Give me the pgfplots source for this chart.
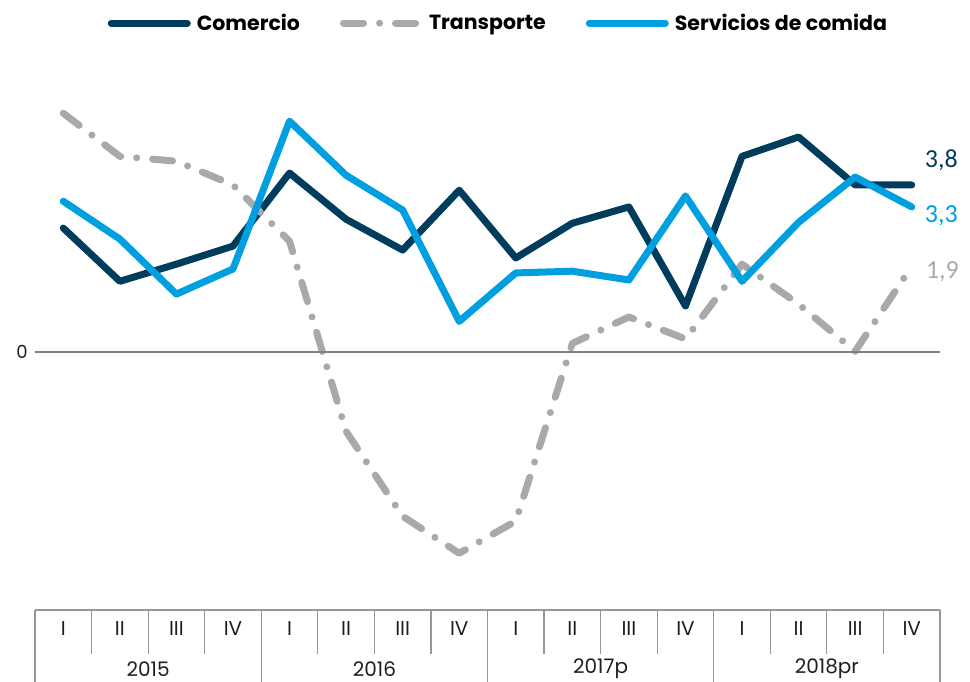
\documentclass[border=0pt]{standalone}
\usepackage{pgfplots}
\pgfplotsset{compat=1.18}
\usepackage{fontspec}
\setmainfont{Poppins}
\newfontfamily\carlito{Carlito}
\definecolor{cnavy}{RGB}{0,61,92}
\definecolor{cblue}{RGB}{0,160,224}
\definecolor{cgray}{RGB}{168,169,173}
\definecolor{tline}{RGB}{150,150,150}
\definecolor{ttext}{RGB}{30,30,30}
\begin{document}
\begin{tikzpicture}
\path[use as bounding box] (-35pt,-72pt) rectangle (935pt,610pt);
\begin{axis}[
  scale only axis, width=905pt, height=550pt,
  at={(0pt,0pt)}, anchor=south west,
  xmin=-0.5, xmax=15.5, ymin=-5.86, ymax=6.64,
  axis line style={draw=none}, xtick=\empty, ytick=\empty,
  clip=false,
  legend columns=3,
  legend style={at={(0.512,1.067)}, anchor=center, draw=none, fill=none,
    font=\bfseries\fontsize{20.5}{24}\selectfont, text=black,
    /tikz/every odd column/.append style={column sep=4pt},
    /tikz/every even column/.append style={column sep=38pt},
    inner sep=0pt},
  legend image code/.code={\draw[#1] (0pt,0pt) -- (76pt,0pt);},
  every axis plot/.append style={line width=7pt, line join=round, line cap=round},
]
\addplot[cnavy, line width=7pt] coordinates {
(0,2.82) (1,1.61) (2,2.0) (3,2.41) (4,4.07) (5,3.02) (6,2.32) (7,3.68)
(8,2.14) (9,2.93) (10,3.30) (11,1.05) (12,4.45) (13,4.89) (14,3.8) (15,3.8)};
\addlegendentry{Comercio}
\addplot[cgray, line width=7pt, dash pattern=on 20pt off 16pt on 0pt off 16pt] coordinates {
(0,5.43) (1,4.45) (2,4.34) (3,3.8) (4,2.52) (5,-1.80) (6,-3.73) (7,-4.57)
(8,-3.84) (9,0.2) (10,0.8) (11,0.3) (12,2.0) (13,1.09) (14,0.02) (15,1.95)};
\addlegendentry{Transporte}
\addplot[cblue, line width=7pt] coordinates {
(0,3.43) (1,2.57) (2,1.32) (3,1.89) (4,5.25) (5,4.02) (6,3.23) (7,0.70)
(8,1.80) (9,1.84) (10,1.64) (11,3.55) (12,1.61) (13,2.95) (14,3.98) (15,3.3)};
\addlegendentry{Servicios de comida}
\draw[color={rgb,255:red,128;green,128;blue,128}, line width=1.4pt] (axis cs:-0.5,0) -- (axis cs:15.5,0);
\node[anchor=center, font=\fontsize{18}{20}\selectfont, text=ttext] at ([xshift=-13pt]axis cs:-0.5,0) {0};
\node[anchor=west, inner sep=0pt, font=\carlito\fontsize{26}{28}\selectfont, text=cnavy] at (axis cs:15.23,4.36) {3,8};
\node[anchor=west, inner sep=0pt, font=\carlito\fontsize{26}{28}\selectfont, text=cblue] at (axis cs:15.23,3.09) {3,3};
\node[anchor=west, inner sep=0pt, font=\carlito\fontsize{26}{28}\selectfont, text=cgray] at (axis cs:15.25,1.82) {1,9};
\end{axis}
% category table
\draw[tline, line width=1.2pt] (0pt,0pt) -- (905pt,0pt);
\foreach \i in {1,2,3,5,6,7,9,10,11,13,14,15} {
  \draw[tline, line width=1.2pt] ({\i*56.5625pt},0pt) -- ({\i*56.5625pt},-44pt);
}
\foreach \i in {0,4,8,12,16} {
  \draw[tline, line width=1.2pt] ({\i*56.5625pt},0pt) -- ({\i*56.5625pt},-72pt);
}
\foreach \q [count=\k from 0] in {I,II,III,IV,I,II,III,IV,I,II,III,IV,I,II,III,IV} {
  \node[text=ttext, font=\fontsize{20}{22}\selectfont, inner sep=0pt] at ({(\k+0.5)*56.5625pt},-19pt) {\q};
}
\foreach \y [count=\k from 0] in {2015,2016,2017p,2018pr} {
  \node[text=ttext, font=\fontsize{20}{22}\selectfont, inner sep=0pt] at ({(\k*4+2)*56.5625pt},-59pt) {\y};
}
\end{tikzpicture}
\end{document}
